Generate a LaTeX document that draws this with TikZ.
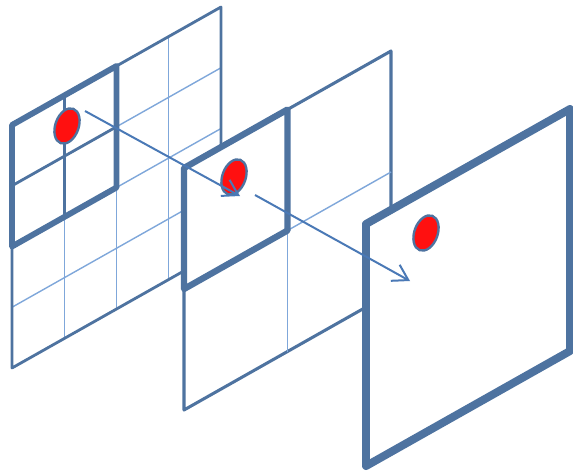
\documentclass[tikz,border=0pt]{standalone}
\usetikzlibrary{shapes.geometric,arrows.meta}

\definecolor{frameblue}{HTML}{4E73A0}
\definecolor{gridblue}{HTML}{7FA7DA}
\definecolor{arrowblue}{HTML}{4A79B6}
\definecolor{dotred}{HTML}{FF1010}

\begin{document}
\begin{tikzpicture}[
    x=0.03cm, y=-0.03cm,
    frame/.style={draw=frameblue, line width=2.4pt, line join=round, fill=white},
    gridline/.style={draw=gridblue, line width=1.2pt},
    midline/.style={draw=frameblue, line width=2.4pt},
    window/.style={draw=frameblue, line width=5pt, line join=round},
    bigframe/.style={draw=frameblue, line width=6.8pt, line join=round, fill=white},
    dot/.style={ellipse, draw=frameblue, line width=2pt, fill=dotred,
        minimum width=0.7cm, minimum height=1.1cm, inner sep=0pt, rotate=-20},
    flow/.style={draw=arrowblue, line width=1.7pt,
        -{Straight Barb[length=4.5mm, width=5.5mm, line width=1.7pt]}}
]
\useasboundingbox (0,0) rectangle (573,474);

% Input plane (4x4 grid)
\foreach \i in {1,2,3}{
    \draw[gridline] ({12+52.25*\i},{125-29.5*\i}) -- ++(0,243);
    \draw[gridline] (12,{125+60.75*\i}) -- ++(209,-118);
}
\draw[frame, fill=none] (12,125) -- (221,7) -- (221,250) -- (12,368) -- cycle;
\draw[midline] (64.25,95.5) -- (64.25,216.25);
\draw[midline] (12,185.75) -- (116.5,126.75);
\draw[window] (12,125) -- (116.5,66) -- (116.5,187.5) -- (12,246.5) -- cycle;
\node[dot] (dot1) at (67,126) {};

% Middle plane (2x2 grid)
\draw[frame, line width=2.6pt] (184,168) -- (391,51) -- (391,293) -- (184,410) -- cycle;
\draw[gridline] (287.5,109.5) -- (287.5,351.5);
\draw[gridline] (184,289) -- (391,172);
\draw[window, line width=5.4pt] (184,168) -- (287.5,109.5) -- (287.5,230.5) -- (184,289) -- cycle;
\node[dot] (dot2) at (234,177) {};

% Output plane
\draw[bigframe] (366,224) -- (570,109) -- (570,351) -- (366,466) -- cycle;
\node[dot] (dot3) at (426,233) {};

% Connections
\coordinate (src1) at (85,111);
\coordinate (tip1) at (240,196);
\coordinate (src2) at (255,195);
\coordinate (tip2) at (410,281);
\draw[flow] (src1) -- (tip1);
\draw[flow] (src2) -- (tip2);

\end{tikzpicture}
\end{document}
